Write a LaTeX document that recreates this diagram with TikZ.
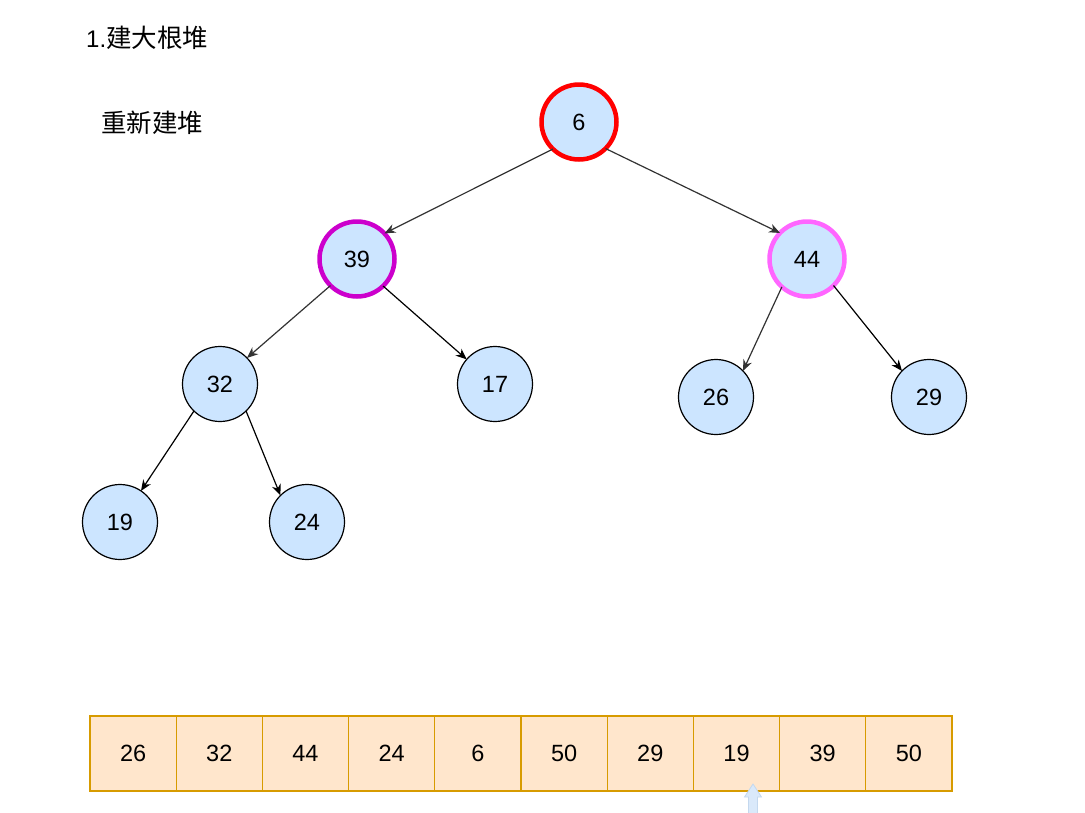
\documentclass[tikz,border=0pt]{standalone}
\usepackage{fontspec}
\setmainfont{Liberation Sans}
\newfontfamily\cjk{Noto Sans CJK SC}
\usetikzlibrary{arrows.meta}
\definecolor{nodefill}{HTML}{CCE5FF}
\definecolor{arrfill}{HTML}{FFE6CC}
\definecolor{arrdraw}{HTML}{D79B00}
\definecolor{purp}{HTML}{CC00CC}
\definecolor{pinkc}{HTML}{FF66FF}
\definecolor{edgegray}{HTML}{333333}
\definecolor{ptrfill}{RGB}{218,233,250}
\definecolor{ptrdraw}{RGB}{196,216,238}
\begin{document}
\begin{tikzpicture}[x=1pt,y=-1pt,
  hnode/.style={circle, draw=black, line width=1.2pt, fill=nodefill, minimum size=75pt,
    inner sep=0pt, outer sep=0pt, font=\fontsize{23.5}{27}\selectfont},
  thick4/.style={line width=4.5pt},
  cell/.style={rectangle, draw=arrdraw, line width=1.2pt, fill=arrfill, minimum width=86.2pt,
    minimum height=75pt, inner sep=0pt, outer sep=0pt, font=\fontsize{23.5}{27}\selectfont},
  link/.style={line width=1.2pt, -{Stealth[length=11pt,width=9pt,inset=3.5pt]}},
  graylink/.style={link, draw=edgegray},
  label/.style={anchor=west, inner sep=0pt, font=\fontsize{24}{28}\selectfont}]
\useasboundingbox (0,0) rectangle (1085,812);
\fill[white] (0,0) rectangle (1085,812);

\node[label] (title) at (86,38) {1.{\cjk\fontsize{25.5}{28}\selectfont 建大根堆}};
\node[label] (sub) at (101,123) {\cjk\fontsize{25.5}{28}\selectfont 重新建堆};

\node[hnode, thick4, draw=red] (n6) at (579,122) {6};
\node[hnode, thick4, draw=purp] (n39) at (357,259) {39};
\node[hnode, thick4, draw=pinkc] (n44) at (807,259) {44};
\node[hnode] (n32) at (220,384) {32};
\node[hnode] (n17) at (495,384) {17};
\node[hnode] (n26) at (716,397) {26};
\node[hnode] (n29) at (929,397) {29};
\node[hnode] (n19) at (120,522) {19};
\node[hnode] (n24) at (307,522) {24};

\draw[graylink] (n6.226) -- (n39.43);
\draw[graylink] (n6.315) -- (n44.136);
\draw[graylink] (n39.225) -- (n32.44);
\draw[link] (n39.314) -- (n17.139);
\draw[graylink] (n44.228) -- (n26.44);
\draw[link] (n44.315) -- (n29.136);
\draw[link] (n32.226) -- (n19.56);
\draw[link] (n32.314) -- (n24.135);

\foreach \v [count=\i from 0] in {26,32,44,24,6,50,29,19,39,50} {
  \node[cell] (c\i) at ({90+86.2*(\i+0.5)},753.5) {\v};
}

\fill[ptrfill, draw=ptrdraw, line width=0.8pt]
  (753,784) -- (761.5,797) -- (757.5,797) -- (757.5,815) -- (748.5,815) -- (748.5,797) -- (744.5,797) -- cycle;
\end{tikzpicture}
\end{document}
